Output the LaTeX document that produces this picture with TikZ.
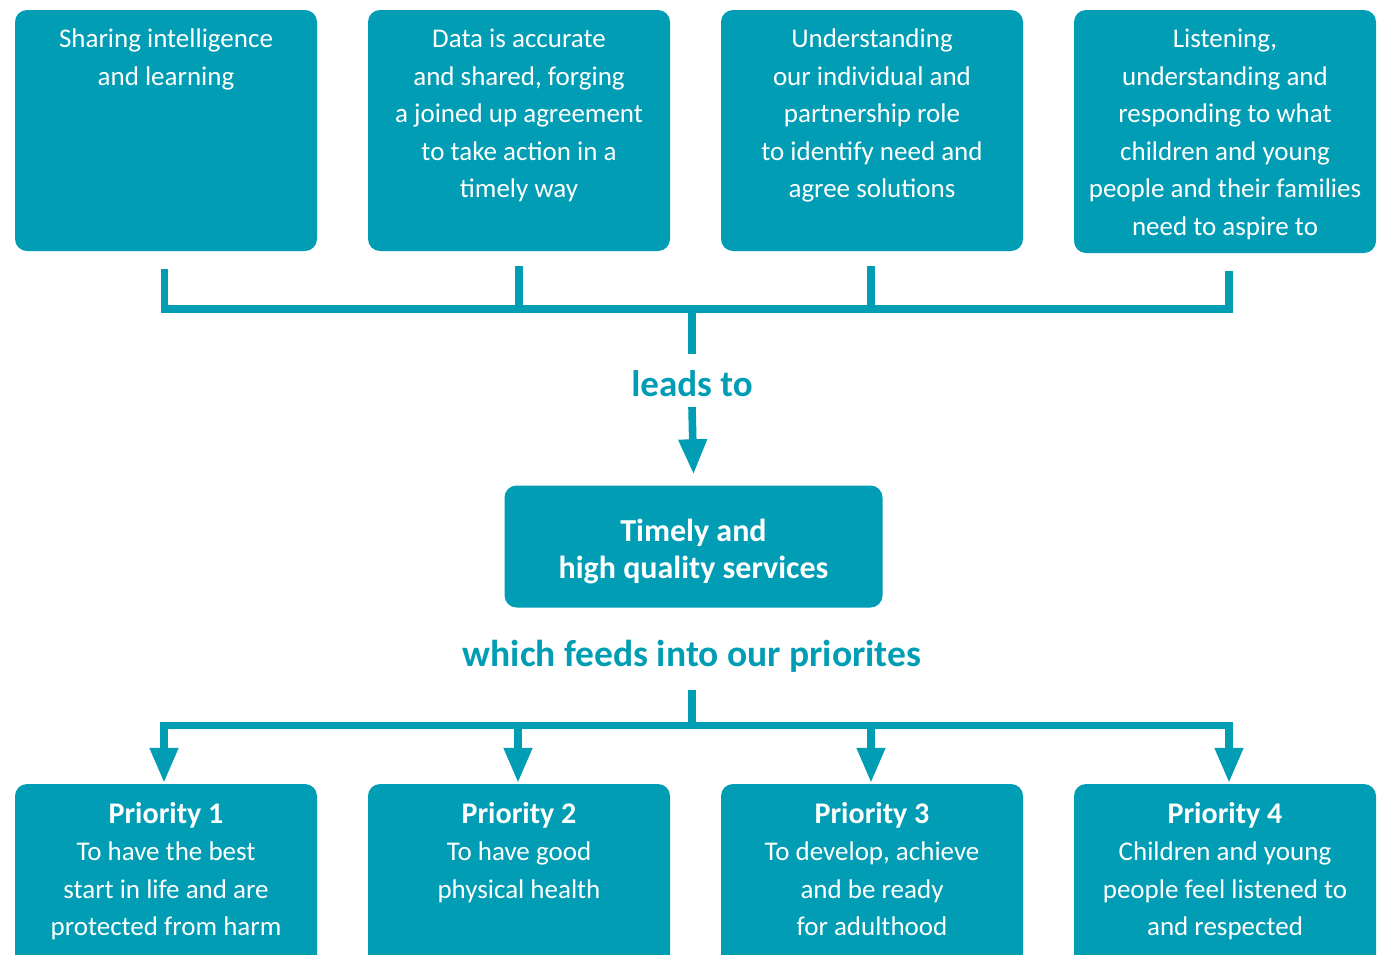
\documentclass[tikz,border=0pt]{standalone}
\usepackage{fontspec}
\setmainfont{Carlito}
\usetikzlibrary{arrows.meta}
\definecolor{teal1}{RGB}{0,157,180}
\begin{document}
\begin{tikzpicture}[x=1pt,y=-1pt,
  box/.style={draw=none, fill=teal1, rounded corners=12pt, minimum width=302pt, inner sep=0pt},
  boxtxt/.style={text=white, align=center, anchor=north, inner sep=0pt, font=\fontsize{27}{37.5}\selectfont},
  bigtxt/.style={text=teal1, anchor=base, inner sep=0pt, font=\bfseries\fontsize{37.5}{42}\selectfont},
  conn/.style={draw=teal1, line width=7.6pt, line join=miter},
  arr/.style={draw=teal1, line width=7.6pt, -{Triangle[width=27pt,length=35pt]}}
]
\useasboundingbox (0,0) rectangle (1381,954);
\clip (0,0) rectangle (1381,954);

% top boxes
\node[box, minimum height=241pt] (t1) at (166,130.5) {};
\node[box, minimum height=241pt] (t2) at (519,130.5) {};
\node[box, minimum height=241pt] (t3) at (872,130.5) {};
\node[box, minimum height=243pt] (t4) at (1225,131.5) {};
\node[boxtxt] (t1x) at ([yshift=-19pt]t1.north) {Sharing intelligence\\and learning};
\node[boxtxt] (t2x) at ([yshift=-19pt]t2.north) {Data is accurate\\and shared, forging\\a joined up agreement\\to take action in a\\timely way};
\node[boxtxt] (t3x) at ([yshift=-19pt]t3.north) {Understanding\\our individual and\\partnership role\\to identify need and\\agree solutions};
\node[boxtxt] (t4x) at ([yshift=-19pt]t4.north) {Listening,\\understanding and\\responding to what\\children and young\\people and their families\\need to aspire to};

% top connector
\coordinate (s1) at (164.5,269);
\coordinate (s2) at (519,266);
\coordinate (s3) at (871,266);
\coordinate (s4) at (1229,271);
\coordinate (j1) at (164.5,309);
\coordinate (j2) at (519,309);
\coordinate (j3) at (871,309);
\coordinate (j4) at (1229,309);
\coordinate (jc) at (692,309);
\coordinate (c1) at (692,354);
\draw[conn] (s1) -- (j1) -- (j4) -- (s4);
\draw[conn] (s2) -- (j2);
\draw[conn] (s3) -- (j3);
\draw[conn] (jc) -- (c1);

\node[bigtxt, font=\bfseries\fontsize{37}{42}\selectfont] (lead) at (692,396) {leads to};

% middle box
\node[box, minimum width=378pt, minimum height=122pt] (mid) at (693.5,546.5) {};
\node[boxtxt, font=\bfseries\fontsize{32}{37}\selectfont] (midx) at ([yshift=-34pt]mid.north) {Timely and\\high quality services};
\coordinate (a1) at (692,407);
\draw[arr] (a1) -- ([yshift=11pt]mid.north);

\node[bigtxt] (feed) at (692,666) {which feeds into our priorites};

% bottom boxes
\node[box, minimum height=190pt] (p1) at (166,879) {};
\node[box, minimum height=190pt] (p2) at (519,879) {};
\node[box, minimum height=190pt] (p3) at (872,879) {};
\node[box, minimum height=190pt] (p4) at (1225,879) {};
\node[boxtxt] (p1x) at ([yshift=-18pt]p1.north) {{\bfseries\fontsize{30}{37.5}\selectfont Priority 1}\\To have the best\\start in life and are\\protected from harm};
\node[boxtxt] (p2x) at ([yshift=-18pt]p2.north) {{\bfseries\fontsize{30}{37.5}\selectfont Priority 2}\\To have good\\physical health};
\node[boxtxt] (p3x) at ([yshift=-18pt]p3.north) {{\bfseries\fontsize{30}{37.5}\selectfont Priority 3}\\To develop, achieve\\and be ready\\for adulthood};
\node[boxtxt] (p4x) at ([yshift=-18pt]p4.north) {{\bfseries\fontsize{30}{37.5}\selectfont Priority 4}\\Children and young\\people feel listened to\\and respected};

% bottom connector
\coordinate (d0) at (692,690);
\coordinate (dc) at (692,725.5);
\coordinate (d1) at (164,725.5);
\coordinate (d2) at (518,725.5);
\coordinate (d3) at (871,725.5);
\coordinate (d4) at (1229,725.5);
\draw[conn] (d0) -- (dc);
\draw[conn, line cap=rect] (d1) -- (d4);
\draw[arr] (d1) -- ([xshift=-2pt,yshift=1pt]p1.north);
\draw[arr] (d2) -- ([xshift=-1pt,yshift=1pt]p2.north);
\draw[arr] (d3) -- ([xshift=-1pt,yshift=1pt]p3.north);
\draw[arr] (d4) -- ([xshift=4pt,yshift=1pt]p4.north);
\end{tikzpicture}
\end{document}
